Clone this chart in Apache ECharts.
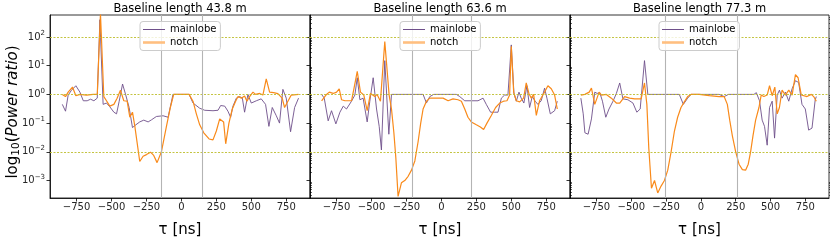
<!DOCTYPE html>
<html>
<head>
<meta charset="utf-8">
<script src="https://cdn.jsdelivr.net/npm/echarts@6/dist/echarts.min.js"></script>
<style>
html,body{margin:0;padding:0;background:#fff;}
#chart{width:830px;height:243px;}
</style>
</head>
<body>
<div id="chart"></div>
<script>
// ---- Data ----
const titles = ['Baseline length 43.8 m', 'Baseline length 63.6 m', 'Baseline length 77.3 m'];
const baselineDelays = [146, 212, 258];   // ns, vertical reference lines at ±value
const refLevels = [100, 1, 0.01];         // horizontal dotted lines
const xTicks = [-750, -500, -250, 0, 250, 500, 750];
const yTicks = [0.001, 0.01, 0.1, 1, 10, 100];

const tau1M = [-852,-829,-810,-786,-755,-726,-702,-674,-650,-626,-602,-583,-560,-536,-512,-483,-464,-445,-421,-398,-374,-350,-326,-298,-269,-238,-214,-179,-131,-95,-60,-36,55,83,131,167,226,262,281,310,333,352,369,393,417,436,452,476,500,536,571,602,626,650,679,702,726,750,781,810,838];
const main1 = [0.45,0.26,0.95,1.4,2.0,1.2,0.6,0.6,0.68,0.6,0.74,400,0.45,0.5,0.37,0.24,0.21,0.58,2.3,0.95,0.35,0.07,0.087,0.11,0.127,0.11,0.13,0.17,0.18,0.16,1.0,1.0,1.0,0.5,0.33,0.28,0.27,0.28,0.41,0.39,0.26,0.16,0.39,0.74,0.84,0.74,0.24,1.0,0.5,0.6,0.7,0.45,0.077,0.35,0.18,0.1,1.5,0.74,0.05,0.35,0.74];
const tau1N = [-852,-829,-810,-779,-755,-726,-679,-631,-602,-579,-555,-536,-512,-483,-460,-436,-412,-388,-369,-350,-333,-298,-274,-250,-221,-198,-174,-143,-107,-79,-55,55,83,107,131,160,198,226,250,274,302,317,340,364,388,405,429,452,469,488,512,531,560,583,607,631,660,690,721,738,762,786,838];
const notch1 = [1.0,0.84,1.2,1.8,0.9,1.0,0.95,1.0,1.0,650,0.84,0.6,0.39,0.45,0.74,1.4,0.6,0.58,0.16,0.24,0.077,0.0046,0.007,0.008,0.0097,0.0075,0.0042,0.01,0.077,0.35,1.0,1.0,0.58,0.21,0.087,0.046,0.028,0.026,0.053,0.14,0.11,0.019,0.1,0.31,0.58,0.84,0.74,0.88,0.58,0.84,1.2,1.0,1.08,0.95,3.5,1.2,1.15,1.07,0.74,0.35,0.58,0.95,1.0];

const tau2M = [-857,-838,-810,-786,-755,-726,-702,-679,-643,-619,-602,-583,-560,-531,-512,-488,-464,-445,-429,-405,-376,-357,-333,-131,-107,-83,-55,107,131,167,214,262,298,321,352,381,405,429,452,476,500,519,536,555,571,590,612,631,650,671,690,714,738,755,779,810,829];
const main2 = [1.0,0.74,0.12,0.27,0.094,0.24,0.39,0.31,0.58,0.95,3.8,0.65,0.74,0.11,0.58,3.8,0.31,0.077,0.0116,15,0.041,1.0,1.0,1.0,0.5,0.84,1.0,1.0,0.84,0.6,0.6,0.6,0.74,0.45,0.24,0.24,0.24,0.74,0.95,0.95,53,1.08,0.58,1.2,0.74,0.5,2.0,0.35,0.84,0.58,0.45,0.6,1.65,0.74,0.21,0.27,0.58];
const tau2N = [-857,-826,-802,-774,-750,-731,-714,-690,-643,-626,-602,-579,-555,-531,-507,-476,-460,-436,-405,-374,-357,-340,-326,-310,-286,-262,-238,-214,-190,-167,-148,-131,-107,-83,-48,12,48,83,119,143,167,190,214,250,279,302,326,357,388,417,445,469,488,500,517,536,560,588,607,626,643,660,679,702,726,738,762,786,810,829];
const notch2 = [0.6,0.95,1.2,1.08,1.2,1.57,0.65,0.6,0.6,1.57,6.3,1.2,0.95,0.27,1.08,0.84,1.0,0.58,69,0.95,0.31,0.046,0.0062,0.00028,0.00083,0.001,0.0014,0.0023,0.0048,0.022,0.1,0.31,0.58,0.74,0.74,0.74,0.6,0.7,0.65,0.58,0.31,0.16,0.11,0.087,0.073,0.06,0.1,0.185,0.35,0.5,0.58,0.6,0.95,47,1.2,0.6,0.55,0.74,2.5,1.08,0.74,1.0,0.185,0.6,0.95,1.2,2.0,1.57,0.95,0.31];

const tau3M = [-862,-845,-833,-810,-786,-762,-745,-726,-707,-683,-660,-631,-607,-583,-560,-524,-488,-460,-436,-405,-381,-155,-126,-95,-71,131,167,198,381,398,421,440,457,476,493,512,529,548,564,583,607,631,655,679,702,726,750,774,798,821,829];
const main3 = [0.74,0.21,0.046,0.041,0.14,1.2,1.08,1.15,0.58,0.16,0.31,0.58,1.08,2.5,0.7,0.65,0.5,0.24,0.31,15,1.0,1.0,0.45,0.74,1.0,1.0,0.84,1.0,1.0,1.15,0.6,0.127,0.077,0.017,0.35,0.58,0.03,0.95,1.4,0.74,1.2,0.58,1.57,3.0,2.6,0.45,0.31,0.057,0.067,0.65,0.84];
const tau3N = [-862,-833,-802,-786,-762,-731,-714,-679,-643,-607,-583,-548,-512,-476,-429,-405,-388,-374,-355,-333,-310,-286,-262,-238,-214,-190,-167,-143,-119,-95,-71,-12,60,131,167,190,207,226,250,274,298,321,340,357,374,393,417,433,452,476,493,512,531,548,564,583,607,631,655,679,698,721,762,793,810,829];
const notch3 = [0.95,1.0,1.2,1.65,0.45,1.2,0.95,1.0,0.74,0.5,0.5,0.84,0.74,0.7,0.7,2.5,0.45,0.013,0.00054,0.001,0.00037,0.00064,0.001,0.0023,0.01,0.053,0.16,0.35,0.55,0.84,1.0,1.0,0.9,0.84,0.84,0.45,0.127,0.036,0.01,0.0037,0.0024,0.0023,0.0037,0.01,0.036,0.127,0.35,0.95,0.84,0.95,2.0,0.9,1.8,0.21,0.35,1.4,0.95,1.4,0.95,4.9,3.8,0.95,0.84,1.0,0.84,0.58];

// ---- Layout / style ----
const panels = [
  {tm: tau1M, m: main1, tn: tau1N, n: notch1},
  {tm: tau2M, m: main2, tn: tau2N, n: notch2},
  {tm: tau3M, m: main3, tn: tau3N, n: notch3}
];
const gridLefts = [50, 310, 570];
const gridWidths = [260, 260, 259];
const legendLefts = [140, 400, 659];
const Y_MIN = Math.pow(10, -3.609), Y_MAX = Math.pow(10, 2.766);
const X_MIN = -940, X_MAX = 920;
const C_MAIN = '#6e4f8a', C_NOTCH = '#f98a1a';
const FONT = 'DejaVu Sans';

const minorVals = [];
for (let e = -4; e <= 2; e++) for (let k = 2; k <= 9; k++) {
  const v = k * Math.pow(10, e);
  if (v > Y_MIN && v < Y_MAX) minorVals.push(v);
}
const zip = (a, b) => a.map((t, i) => [t, b[i]]);
const fmtX = v => (v < 0 ? '\u2212' + (-v) : String(v));
const fmtY = v => {
  const e = Math.round(Math.log10(v));
  if (Math.abs(Math.log10(v) - e) > 0.01) return '';
  return '{b|10}{s|' + (e < 0 ? '\u2212' + (-e) : e) + '}';
};

const grid = [], xAxis = [], yAxis = [], series = [], legend = [], graphic = [];
panels.forEach((p, i) => {
  grid.push({left: gridLefts[i], top: 15, width: gridWidths[i], height: 194,
    show: true, borderColor: '#000', borderWidth: 0.8, backgroundColor: 'transparent'});
  graphic.push({type: 'text', x: gridLefts[i] + gridWidths[i] / 2, y: 9, z: 20,
    style: {text: titles[i], textAlign: 'center', textVerticalAlign: 'middle', align: 'center', verticalAlign: 'middle',
      font: '11.5px "DejaVu Sans"', fill: '#000'}});
  xAxis.push({type: 'value', gridIndex: i, min: X_MIN, max: X_MAX,
    axisLine: {show: true, onZero: false, lineStyle: {color: '#000', width: 0.8}},
    axisTick: {show: true, customValues: xTicks, length: 3.5, lineStyle: {color: '#000', width: 0.8}},
    axisLabel: {customValues: xTicks, formatter: fmtX, fontFamily: FONT, fontSize: 10, color: '#262626', margin: 4},
    splitLine: {show: false},
    name: '\u03c4 [ns]', nameLocation: 'middle', nameGap: 25,
    nameTextStyle: {fontFamily: FONT, fontSize: 15, color: '#000'}});
  yAxis.push({type: 'log', logBase: 10, gridIndex: i, min: Y_MIN, max: Y_MAX,
    axisLine: {show: true, onZero: false, lineStyle: {color: '#000', width: 0.8}},
    axisTick: {show: true, customValues: yTicks, length: 3.5, lineStyle: {color: '#000', width: 0.8}},
    axisLabel: {show: i === 0, customValues: yTicks, formatter: fmtY, margin: 5, fontFamily: FONT,
      rich: {b: {fontFamily: FONT, fontSize: 10, color: '#262626'},
             s: {fontFamily: FONT, fontSize: 7, color: '#262626', padding: [0, 0, 7, 0]}}},
    splitLine: {show: false}});
  yAxis.push({type: 'log', logBase: 10, gridIndex: i, min: Y_MIN, max: Y_MAX,
    axisLine: {show: false, onZero: false},
    axisTick: {show: true, customValues: minorVals, length: 2, lineStyle: {color: '#000', width: 0.6}},
    axisLabel: {show: false}, splitLine: {show: false}});
  const d = baselineDelays[i];
  series.push({name: 'mainlobe', type: 'line', xAxisIndex: i, yAxisIndex: 2 * i,
    data: zip(p.tm, p.m), showSymbol: false, symbol: 'none', clip: true,
    lineStyle: {color: C_MAIN, width: 0.9}, itemStyle: {color: C_MAIN}, z: 3,
    markLine: {silent: true, symbol: 'none', label: {show: false}, animation: false,
      data: refLevels.map(v => ({yAxis: v, lineStyle: {color: '#bdbd2c', type: [2, 1.5], width: 0.9}}))
        .concat([-d, d].map(v => ({xAxis: v, lineStyle: {color: '#b4b4b4', type: 'solid', width: 1.1}})))}});
  series.push({name: 'notch', type: 'line', xAxisIndex: i, yAxisIndex: 2 * i,
    data: zip(p.tn, p.n), showSymbol: false, symbol: 'none', clip: true,
    lineStyle: {color: C_NOTCH, width: 1.2}, itemStyle: {color: C_NOTCH}, z: 4});
  legend.push({left: legendLefts[i], top: 21.5, orient: 'vertical', padding: [3, 4, 3, 3], itemGap: 3,
    itemWidth: 22, itemHeight: 10, backgroundColor: 'rgba(255,255,255,0.8)', borderColor: '#cccccc',
    borderWidth: 1, borderRadius: 3, selectedMode: false, z: 10, symbolKeepAspect: true,
    textStyle: {fontFamily: FONT, fontSize: 10, color: '#000'},
    data: [{name: 'mainlobe', icon: 'path://M0,0H22V1H0Z', itemStyle: {color: C_MAIN}},
           {name: 'notch', icon: 'path://M0,0H22V2.6H0Z', itemStyle: {color: '#ffbf80'}}]});
});

graphic.push({type: 'text', x: 13, y: 112, rotation: Math.PI / 2,
  style: {text: '{n|log}{sub|10}{n|(}{i|Power ratio}{n|)}', textAlign: 'center', textVerticalAlign: 'middle',
    align: 'center', verticalAlign: 'middle',
    rich: {n: {fontFamily: FONT, fontSize: 15, fill: '#000', color: '#000'},
           sub: {fontFamily: FONT, fontSize: 10.5, fill: '#000', color: '#000', padding: [6, 0, 0, 0]},
           i: {fontFamily: FONT, fontSize: 15, fontStyle: 'italic', fill: '#000', color: '#000'}}}});

const chart = echarts.init(document.getElementById('chart'), null, {renderer: 'canvas'});
chart.setOption({
  animation: false,
  backgroundColor: '#fff',
  grid, xAxis, yAxis, series, legend, graphic
});
</script>
</body>
</html>
